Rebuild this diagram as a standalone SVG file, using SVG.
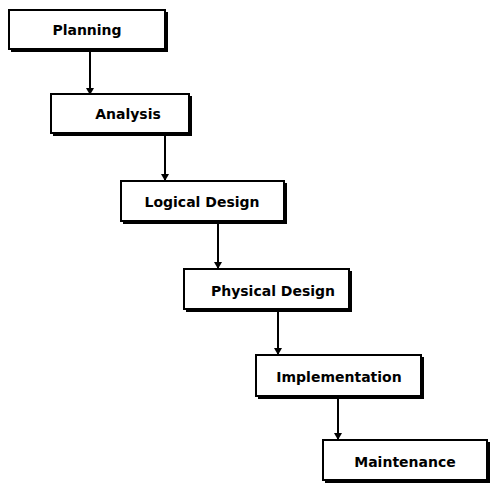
<svg xmlns="http://www.w3.org/2000/svg" width="499" height="487" viewBox="0 0 499 487">
<style>
.box{fill:#fff;stroke:#000;stroke-width:2}
.sh{fill:#000}
.t{font-family:"DejaVu Sans",sans-serif;font-weight:bold;font-size:14px;text-anchor:middle;fill:#000}
.c{stroke:#000;stroke-width:2;fill:none;marker-end:url(#ah)}
</style>
<defs>
<marker id="ah" markerWidth="8" markerHeight="8" refX="7" refY="4" orient="auto" markerUnits="userSpaceOnUse" viewBox="0 0 8 8">
<path d="M0,0 L7,4 L0,8 Z" fill="#000"/>
</marker>
</defs>
<rect width="499" height="487" fill="#fff"/>
<g id="connectors">
<line class="c" x1="90" y1="51" x2="90" y2="95"/>
<line class="c" x1="165" y1="135" x2="165" y2="181"/>
<line class="c" x1="218" y1="223" x2="218" y2="269"/>
<line class="c" x1="278" y1="311" x2="278" y2="355"/>
<line class="c" x1="338" y1="398" x2="338" y2="440"/>
</g>
<g id="planning">
<rect class="sh" x="11" y="12" width="157" height="40"/>
<rect class="box" x="9" y="10" width="156" height="39"/>
<text class="t" x="87" y="35">Planning</text>
</g>
<g id="analysis">
<rect class="sh" x="53" y="96" width="139" height="40"/>
<rect class="box" x="51" y="94" width="138" height="39"/>
<text class="t" x="128" y="119">Analysis</text>
</g>
<g id="logical">
<rect class="sh" x="123" y="183" width="164" height="41"/>
<rect class="box" x="121" y="181" width="163" height="40"/>
<text class="t" x="202" y="207">Logical Design</text>
</g>
<g id="physical">
<rect class="sh" x="186" y="271" width="166" height="41"/>
<rect class="box" x="184" y="269" width="165" height="40"/>
<text class="t" x="273" y="296">Physical Design</text>
</g>
<g id="implementation">
<rect class="sh" x="258" y="357" width="166" height="42"/>
<rect class="box" x="256" y="355" width="165" height="41"/>
<text class="t" x="339" y="382">Implementation</text>
</g>
<g id="maintenance">
<rect class="sh" x="325" y="442" width="165" height="41"/>
<rect class="box" x="323" y="440" width="164" height="40"/>
<text class="t" x="405" y="467">Maintenance</text>
</g>
</svg>
